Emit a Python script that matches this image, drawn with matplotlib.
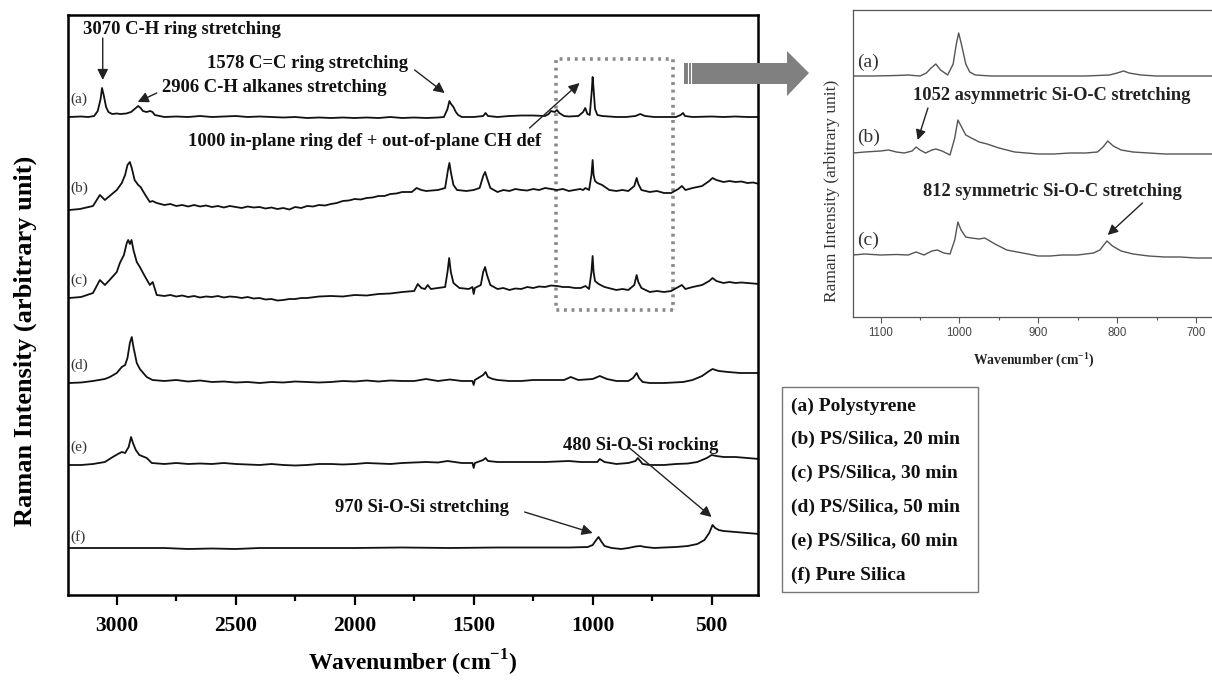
import matplotlib
matplotlib.use('Agg')
import matplotlib.pyplot as plt
from matplotlib.patches import Rectangle, Polygon
from matplotlib.lines import Line2D
from matplotlib.ticker import MultipleLocator

plt.rcParams['font.family'] = 'Liberation Serif'
plt.rcParams['mathtext.fontset'] = 'custom'
plt.rcParams['mathtext.rm'] = 'Liberation Serif'
plt.rcParams['mathtext.bf'] = 'Liberation Serif:bold'

# main spectra: (wavenumber, intensity above own baseline)
spec_a = [(3200, 0), (3150, 0.5), (3120, 0), (3095, 1), (3080, 6), (3068, 18), (3062, 29), (3055, 22),
          (3045, 10), (3035, 5), (3020, 3), (3000, 3.5), (2985, 3), (2960, 3.5), (2940, 5), (2925, 8),
          (2910, 11), (2900, 9), (2890, 6), (2875, 5), (2860, 6), (2850, 5), (2840, 2), (2820, 1),
          (2800, 0), (2750, 0.5), (2700, 0), (2650, 1), (2600, 0), (2550, 0.5), (2500, 1), (2450, 0),
          (2400, 0.5), (2350, 0), (2300, -0.5), (2250, 0), (2200, -1), (2150, -0.5), (2100, -1),
          (2050, -0.5), (2000, -1), (1950, -0.5), (1900, -1), (1850, 0), (1800, -1), (1750, -0.5),
          (1700, -1), (1650, -0.5), (1625, 0), (1610, 8), (1602, 16), (1595, 13), (1585, 10), (1575, 5),
          (1565, 2), (1550, 0), (1500, 0), (1460, 1), (1450, 4), (1440, 1), (1400, 0), (1350, 1),
          (1300, 1.5), (1250, 1.5), (1200, 1), (1185, 3), (1175, 6), (1160, 5), (1150, 7), (1140, 4),
          (1120, 1), (1100, 0.5), (1060, 1), (1040, 5), (1031, 9), (1022, 3), (1012, 2), (1004, 25),
          (1000, 40), (996, 28), (990, 8), (980, 2), (960, 1), (900, 0), (860, 0), (820, 1), (800, 3),
          (780, 1), (740, 0), (700, 0), (650, 0), (630, 2), (620, 4), (612, 1), (580, 0), (500, 0.5),
          (450, 0), (400, 0.5), (350, 0), (300, 0)]
spec_b = [(3200, 0), (3155, 1), (3100, 4), (3071, 15), (3050, 10), (3030, 14), (3000, 20), (2979, 27),
          (2965, 35), (2955, 45), (2945, 48), (2937, 42), (2925, 30), (2910, 25), (2900, 23), (2880, 15),
          (2861, 8), (2850, 9), (2832, 7), (2800, 5), (2775, 6), (2750, 4), (2725, 5), (2700, 3.5),
          (2675, 5), (2650, 3.5), (2625, 4.5), (2600, 3), (2575, 4), (2550, 2.5), (2525, 4), (2500, 3),
          (2475, 2), (2450, 3.5), (2425, 2.5), (2400, 3), (2375, 1.5), (2350, 2.5), (2325, 1),
          (2300, 2), (2275, 0.5), (2250, 3), (2225, 2), (2200, 4), (2175, 3.5), (2150, 5), (2125, 4.5),
          (2100, 6), (2075, 7), (2050, 9), (2025, 9.5), (2000, 11), (1975, 10.5), (1950, 12),
          (1925, 12.5), (1900, 14), (1875, 14), (1850, 16), (1825, 16.5), (1800, 18),
          (1760, 18), (1740, 22), (1720, 20), (1700, 19), (1650, 20), (1620, 22), (1608, 40), (1602, 47),
          (1596, 38), (1585, 25), (1570, 20), (1530, 19), (1500, 20), (1475, 22), (1460, 34), (1452, 38),
          (1444, 32), (1430, 22), (1400, 18), (1375, 20), (1350, 19), (1325, 21), (1300, 20),
          (1275, 19.5), (1250, 21), (1225, 20), (1200, 22), (1175, 21), (1150, 20), (1125, 21),
          (1100, 19), (1052, 21), (1040, 20), (1030, 22), (1015, 20), (1005, 35), (1000, 50), (996, 35),
          (990, 29), (980, 27), (960, 25), (930, 20), (900, 19), (875, 20), (850, 19), (825, 24), (815, 32),
          (808, 26), (795, 20), (760, 18), (730, 19), (700, 17), (670, 17), (640, 21), (625, 24), (610, 20),
          (580, 22), (540, 24), (510, 29), (496, 32), (480, 30), (450, 28), (425, 29), (400, 28),
          (375, 28.5), (350, 27), (325, 27.5), (300, 26)]
spec_c = [(3200, 0), (3150, 1), (3100, 5), (3071, 18), (3050, 13), (3030, 18), (3000, 26), (2987, 35),
          (2970, 43), (2958, 55), (2952, 58), (2945, 54), (2938, 58), (2930, 48), (2916, 36), (2903, 31),
          (2885, 23), (2861, 13), (2849, 16), (2832, 3), (2800, 2), (2775, 3), (2750, 1.5), (2725, 2.5),
          (2700, 1), (2675, 2), (2650, 0.5), (2625, 1.5), (2600, 1), (2575, 2), (2550, 0.5),
          (2525, 1.5), (2500, 1), (2475, 0), (2450, 1), (2425, -0.5), (2400, 0), (2375, -1.5),
          (2350, -1), (2325, -2.5), (2300, -2), (2275, -1), (2250, -1), (2225, 0), (2200, 0),
          (2150, 1.5), (2100, 2), (2050, 1.5), (2000, 3), (1950, 2.5), (1900, 4), (1850, 4.5),
          (1800, 6), (1750, 7), (1735, 14), (1720, 10), (1705, 9), (1693, 13), (1680, 9), (1650, 10),
          (1620, 11), (1610, 26), (1603, 40), (1596, 26), (1585, 15), (1560, 10), (1520, 9), (1505, 11),
          (1500, 4), (1495, 10), (1470, 13), (1460, 26), (1452, 31), (1444, 23), (1430, 13), (1400, 9),
          (1375, 10), (1350, 8), (1325, 9.5), (1300, 9), (1275, 11), (1250, 10), (1225, 11.5),
          (1200, 11), (1175, 12.5), (1150, 12), (1125, 11), (1100, 11), (1075, 10), (1050, 10),
          (1030, 12), (1015, 9), (1005, 26), (1000, 42), (996, 26), (990, 17), (975, 14), (950, 11),
          (925, 9.5), (900, 8), (875, 9), (850, 8), (825, 13), (815, 23), (808, 16), (795, 10), (760, 6),
          (730, 7), (700, 6), (670, 7), (640, 11), (625, 13), (610, 9), (580, 11), (540, 13), (510, 17),
          (496, 20), (480, 17), (450, 15), (425, 16), (400, 15), (375, 15.5), (350, 15), (325, 14.5),
          (300, 14)]
spec_d = [(3200, 0), (3150, 0.5), (3100, 2), (3050, 4), (3029, 6), (3000, 10), (2979, 16), (2965, 18),
          (2955, 25), (2945, 40), (2937, 46), (2930, 36), (2916, 20), (2903, 14), (2874, 6), (2850, 3),
          (2800, 2), (2750, 3), (2700, 1.5), (2650, 2.5), (2600, 1), (2550, 1.5), (2500, 0.5),
          (2450, 1), (2400, 0), (2350, 1), (2300, 0.5), (2250, 1.5), (2200, 1), (2150, 0.5),
          (2100, 1), (2050, 2), (2000, 1.5), (1950, 2.5), (1900, 1.5), (1850, 2.5), (1800, 2),
          (1750, 2), (1700, 4), (1650, 2), (1600, 3.5), (1550, 2),
          (1505, 2), (1500, -2), (1495, 3), (1460, 8), (1450, 11), (1440, 6), (1420, 4), (1400, 3),
          (1350, 2), (1300, 2), (1250, 3), (1200, 3), (1120, 3), (1092, 6), (1060, 3), (1000, 4),
          (970, 7), (940, 4), (900, 2), (850, 2), (830, 5), (815, 10), (805, 5), (790, 1), (760, 0),
          (700, 0), (660, 0.5), (620, 1), (580, 3), (540, 7), (510, 12), (496, 14), (470, 12),
          (430, 11), (380, 10), (300, 10)]
spec_e = [(3200, 0), (3150, 0), (3100, 1), (3050, 3), (3017, 8), (2995, 11), (2979, 13), (2965, 12),
          (2950, 18), (2940, 28), (2932, 22), (2920, 15), (2905, 10), (2874, 7), (2853, 2), (2800, 1),
          (2750, 2), (2700, 1), (2650, 1.5), (2600, 1), (2550, 2), (2500, 1), (2450, 0.5), (2400, 0),
          (2350, 1), (2300, 0), (2250, -0.5), (2200, 0), (2150, 1), (2100, 1), (2050, 0.5), (2000, 1),
          (1950, 2), (1900, 1.5), (1850, 1), (1800, 2), (1700, 3), (1650, 2.5), (1610, 4), (1550, 2),
          (1505, 2), (1500, -3),
          (1495, 2), (1460, 5), (1450, 7), (1440, 4), (1400, 3), (1300, 3), (1200, 3), (1100, 4),
          (1050, 3), (980, 3), (970, 6), (950, 3), (900, 1), (850, 2), (820, 4), (810, 7), (800, 4),
          (790, 1), (760, 0), (700, 0), (650, 1), (600, 1.5), (560, 3), (520, 7), (500, 10), (480, 9),
          (450, 8), (400, 8), (350, 7), (300, 6)]
spec_f = [(3200, 0), (3000, 0), (2800, 0), (2700, -1), (2600, -0.5), (2500, -1), (2400, 0), (2200, 0),
          (2000, 0), (1800, 0.5), (1600, 0), (1400, 0.5), (1200, 0.5), (1100, 0.5), (1020, 1), (1000, 3),
          (985, 8), (975, 11), (965, 7), (950, 2), (920, 0), (880, -1), (850, 0), (820, 1.5), (800, 2),
          (780, 1), (740, 0), (700, 0.5), (650, 1), (600, 2), (560, 4), (530, 8), (510, 15), (496, 23),
          (485, 20), (470, 18), (450, 17), (400, 16), (350, 15), (300, 14)]

main_labels = ['(a)', '(b)', '(c)', '(d)', '(e)', '(f)']
main_specs = [spec_a, spec_b, spec_c, spec_d, spec_e, spec_f]
main_offsets = [478, 385, 297, 212, 130, 47]
main_label_y = [496, 407, 315, 230, 148, 58]

# (text, text x, text y, arrow tail, arrow head)
main_notes = [
    ('3070 C-H ring stretching', 3143, 566, (3059, 557), (3059, 515)),
    ('2906 C-H alkanes stretching', 2811, 507, (2832, 502), (2912, 493)),
    ('1578 C=C ring stretching', 2622, 531, (1748, 525), (1622, 502)),
    ('1000 in-plane ring def + out-of-plane CH def', 2702, 454, (1265, 467), (1055, 512)),
    ('970 Si-O-Si stretching', 2084, 87, (1286, 83), (1000, 62)),
    ('480 Si-O-Si rocking', 1126, 150, (845, 147), (500, 78)),
]

# inset spectra, 1135-676 cm-1
ins_a = [(1135, 0), (1110, 0), (1080, 0.5), (1065, 1), (1050, 0), (1042, 3), (1036, 8), (1030, 12),
         (1024, 6), (1015, 1), (1008, 12), (1004, 32), (1001, 43), (997, 30), (992, 12), (987, 4),
         (980, 1), (960, 0), (920, 0), (880, 0), (840, 0), (810, 1), (800, 3), (792, 5), (785, 3),
         (770, 1), (750, 0), (720, 0), (700, 0), (676, 0)]
ins_b = [(1135, 0), (1120, 1), (1100, 2), (1090, 3), (1080, 1), (1070, 0), (1060, 2), (1055, 6),
         (1050, 3), (1043, 0), (1035, 3), (1030, 4), (1022, 2), (1012, -2), (1006, 15), (1002, 33),
         (998, 27), (992, 18), (985, 15), (975, 11), (965, 9), (950, 5), (930, 1), (915, 0), (900, -1),
         (880, -1), (860, 0), (840, 0), (825, 1), (818, 6), (812, 12), (805, 7), (795, 3), (780, 1),
         (760, 0), (740, -1), (720, -1), (700, -1), (676, -1)]
ins_c = [(1135, 0), (1120, 1), (1100, 0), (1080, 0.5), (1065, 0), (1055, 3), (1045, 0), (1035, 4),
         (1028, 5), (1020, 2), (1012, 1), (1006, 15), (1002, 33), (998, 25), (992, 18), (985, 17),
         (975, 16), (968, 17), (955, 11), (940, 5), (920, 2), (900, -1), (885, -1), (870, 0), (850, 0),
         (830, 2), (822, 5), (813, 14), (806, 9), (795, 4), (780, 1), (760, -1), (740, -2), (720, -2),
         (700, -3), (676, -3)]
ins_labels = ['(a)', '(b)', '(c)']
ins_specs = [ins_a, ins_b, ins_c]
ins_offsets = [241, 164, 62]
ins_label_y = [255, 180, 77]
ins_notes = [
    ('1052 asymmetric Si-O-C stretching', 1059, 221, (1040, 209), (1053, 177)),
    ('812 symmetric Si-O-C stretching', 1046, 125, (768, 114), (812, 82)),
]

legend_entries = ['(a) Polystyrene', '(b) PS/Silica, 20 min', '(c) PS/Silica, 30 min',
                  '(d) PS/Silica, 50 min', '(e) PS/Silica, 60 min', '(f) Pure Silica']

W, H = 1212, 684
fig = plt.figure(figsize=(W / 100, H / 100), dpi=100)

# main panel
ax = fig.add_axes([68 / W, 1 - 595 / H, 690 / W, 580 / H])
for lab, spec, off, ly in zip(main_labels, main_specs, main_offsets, main_label_y):
    wn = [p[0] for p in spec]
    val = [p[1] + off for p in spec]
    ax.plot(wn, val, color='#111111', lw=1.3)
    ax.text(3197, ly, lab, fontsize=11, color='#333333', va='center', ha='left')

for txt, tx, ty, tail, head in main_notes:
    ax.text(tx, ty, txt, fontsize=13.4, fontweight='bold', color='#111111', va='center', ha='left')
    ax.annotate('', xy=head, xytext=tail,
                arrowprops=dict(arrowstyle='-|>', color='#222222', lw=1.0, mutation_scale=16,
                                shrinkA=0, shrinkB=0))

ax.add_patch(Rectangle((664, 285), 1155 - 664, 536 - 285, fill=False, ec='#8a8a8a',
                       lw=2.6, ls=(0, (0.8, 1.3))))

ax.set_xlim(3205, 305)
ax.set_ylim(0, 580)
ax.set_yticks([])
ax.xaxis.set_major_locator(MultipleLocator(500))
ax.xaxis.set_minor_locator(MultipleLocator(250))
ax.tick_params(axis='x', which='major', direction='out', length=7, width=1.6, labelsize=15.5, pad=8)
ax.tick_params(axis='x', which='minor', direction='out', length=4, width=1.6)
for t in ax.get_xticklabels():
    t.set_fontweight('bold')
for s in ax.spines.values():
    s.set_linewidth(1.8)
ax.set_xlabel('Wavenumber (cm$^{\\mathbf{-1}}$)', fontsize=17, fontweight='bold')
ax.xaxis.set_label_coords(0.5, -0.117)
ax.xaxis.label.set_verticalalignment('center')
ax.set_ylabel('Raman Intensity (arbitrary unit)', fontsize=19, fontweight='bold')
ax.yaxis.set_label_coords(-0.062, 0.438)
ax.yaxis.label.set_verticalalignment('center')

# inset panel
ax_in = fig.add_axes([853 / W, 1 - 317 / H, 362 / W, 307 / H])
for lab, spec, off, ly in zip(ins_labels, ins_specs, ins_offsets, ins_label_y):
    wn = [p[0] for p in spec]
    val = [p[1] + off for p in spec]
    ax_in.plot(wn, val, color='#555555', lw=1.0)
    ax_in.text(1130, ly, lab, fontsize=14, color='#333333', va='center', ha='left')
for txt, tx, ty, tail, head in ins_notes:
    ax_in.text(tx, ty, txt, fontsize=13.3, fontweight='bold', color='#222222', va='center', ha='left')
    ax_in.annotate('', xy=head, xytext=tail,
                   arrowprops=dict(arrowstyle='-|>', color='#222222', lw=1.0, mutation_scale=15,
                                   shrinkA=0, shrinkB=0))
ax_in.set_xlim(1135, 676)
ax_in.set_ylim(0, 307)
ax_in.set_yticks([])
ax_in.xaxis.set_major_locator(MultipleLocator(100))
ax_in.xaxis.set_minor_locator(MultipleLocator(50))
ax_in.tick_params(axis='x', which='major', direction='out', length=4, width=0.8, color='#555555',
                  labelsize=8.3, labelcolor='#444444', pad=3)
ax_in.tick_params(axis='x', which='minor', direction='out', length=2.5, width=0.8, color='#555555')
for t in ax_in.get_xticklabels():
    t.set_fontfamily('Liberation Sans')
for s in ax_in.spines.values():
    s.set_linewidth(0.9)
    s.set_color('#555555')
ax_in.set_xlabel('Wavenumber (cm$^{\\mathbf{-1}}$)', fontsize=9.8, fontweight='bold', color='#222222')
ax_in.xaxis.set_label_coords(0.5, -0.14)
ax_in.xaxis.label.set_verticalalignment('center')
ax_in.set_ylabel('Raman Intensity (arbitrary unit)', fontsize=12.5, color='#333333')
ax_in.yaxis.set_label_coords(-0.058, 0.41)
ax_in.yaxis.label.set_verticalalignment('center')

# gray zoom arrow
def fpt(px, py):
    return (px / W, 1 - py / H)

arrow_pts = [fpt(684, 63), fpt(787, 63), fpt(787, 51), fpt(809, 73), fpt(787, 96), fpt(787, 84), fpt(684, 84)]
fig.add_artist(Polygon(arrow_pts, closed=True, transform=fig.transFigure, fc='#808080', ec='none'))
for sx in (687.5, 690.5):
    fig.add_artist(Line2D([sx / W, sx / W], [1 - 63 / H, 1 - 84 / H], transform=fig.transFigure,
                          color='white', lw=0.8))

# legend box
fig.add_artist(Rectangle(fpt(782, 592), 196 / W, 205 / H, transform=fig.transFigure,
                         fill=False, ec='#777777', lw=1.0))
for i, entry in enumerate(legend_entries):
    fig.text(791 / W, 1 - (406 + i * 33.8) / H, entry, fontsize=14, fontweight='bold',
             color='#111111', va='center', ha='left')

fig.savefig('out.png', dpi=100)
